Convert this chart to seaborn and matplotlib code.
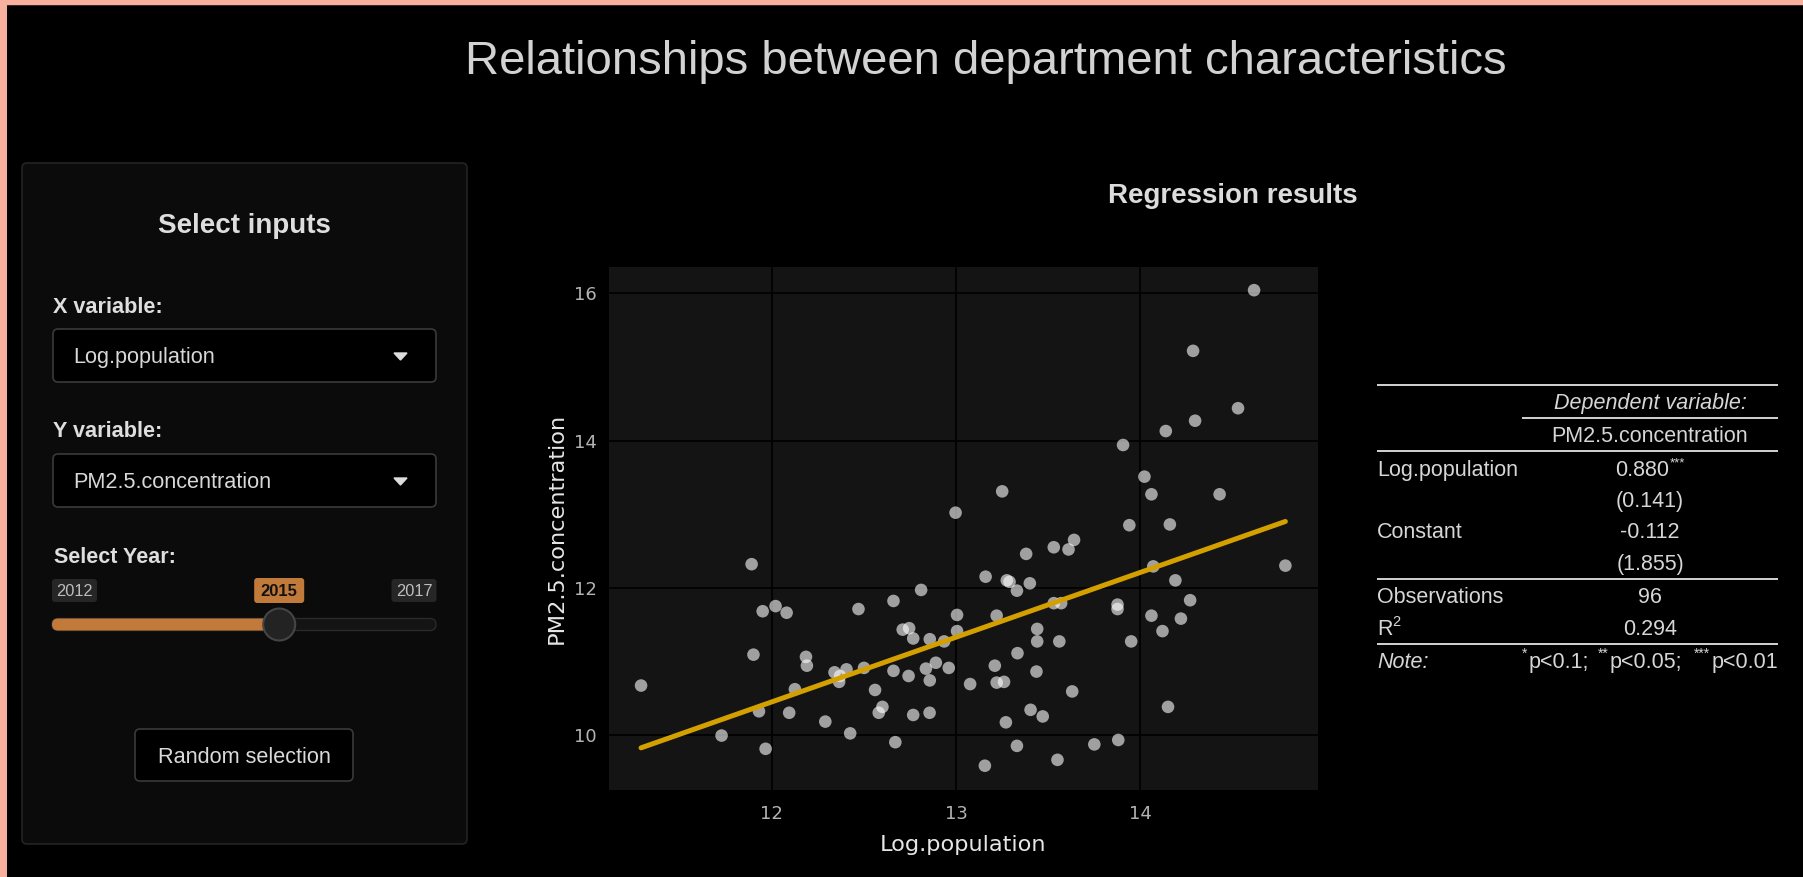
import numpy as np
import pandas as pd
import matplotlib
matplotlib.use("Agg")
import matplotlib.pyplot as plt
from matplotlib.patches import Rectangle, FancyBboxPatch, Circle, Polygon
import seaborn as sns

# ---- data -----------------------------------------------------------------
log_population = [
    11.29, 11.727, 11.89, 11.90, 11.93, 11.95, 11.966, 12.02, 12.08, 12.094,
    12.125, 12.185, 12.19, 12.29, 12.34, 12.365, 12.405, 12.425, 12.47, 12.50,
    12.56, 12.58, 12.60, 12.66, 12.66, 12.67, 12.71, 12.745, 12.742, 12.767,
    12.767, 12.81, 12.836, 12.856, 12.857, 12.857, 12.89, 12.935, 12.96, 12.997,
    13.005, 13.005, 13.076, 13.156, 13.16, 13.21, 13.22, 13.22, 13.26, 13.25,
    13.27, 13.275, 13.29, 13.33, 13.333, 13.33, 13.38, 13.40, 13.404, 13.436,
    13.44, 13.44, 13.47, 13.53, 13.53, 13.57, 13.55, 13.56, 13.61, 13.63,
    13.64, 13.75, 13.876, 13.876, 13.88, 13.906, 13.94, 13.95, 14.022, 14.06,
    14.06, 14.07, 14.12, 14.138, 14.15, 14.16, 14.19, 14.22, 14.27, 14.286,
    14.297, 14.43, 14.53, 14.617, 14.787, 12.37,
]
pm25 = [
    10.67, 9.99, 12.32, 11.09, 10.32, 11.68, 9.81, 11.75, 11.66, 10.30,
    10.62, 11.06, 10.94, 10.18, 10.85, 10.72, 10.89, 10.02, 11.71, 10.91,
    10.61, 10.30, 10.38, 10.87, 11.82, 9.90, 11.43, 11.45, 10.80, 10.27,
    11.31, 11.97, 10.90, 10.30, 10.74, 11.30, 10.98, 11.27, 10.91, 13.02,
    11.63, 11.41, 10.69, 9.58, 12.15, 10.94, 11.62, 10.71, 10.72, 13.31,
    10.17, 12.10, 12.08, 11.96, 11.11, 9.85, 12.46, 12.06, 10.34, 10.86,
    11.44, 11.27, 10.25, 12.55, 11.79, 11.79, 9.66, 11.27, 12.52, 10.59,
    12.65, 9.87, 11.77, 11.71, 9.93, 13.94, 12.85, 11.27, 13.51, 13.27,
    11.62, 12.29, 11.41, 14.13, 10.38, 12.86, 12.10, 11.58, 11.83, 15.22,
    14.27, 13.27, 14.44, 16.045, 12.30, 10.80,
]
x_name = "Log.population"
y_name = "PM2.5.concentration"
x_ticks = [12, 13, 14]
y_ticks = [10, 12, 14, 16]
year_range = [2012, 2017]
selected_year = 2015
coef_slope = 0.880
coef_intercept = -0.112
se_slope = 0.141
se_intercept = 1.855
n_obs = 96
r_squared = 0.294

# ---- styling --------------------------------------------------------------
W, H = 1803, 877
sns.set_theme(style="dark")
plt.rcParams["font.family"] = ["Liberation Sans", "DejaVu Sans"]

TXT = "#d6d6d6"
SALMON = "#f7b09d"
ORANGE = "#c27a3a"
LINE_GOLD = "#d4a000"

fig = plt.figure(figsize=(W / 100, H / 100), dpi=100, facecolor="black")

# full-figure canvas in pixel units for the page furniture
ui = fig.add_axes([0, 0, 1, 1], zorder=0)
ui.set_xlim(0, W)
ui.set_ylim(H, 0)
ui.axis("off")

# page frame
ui.add_patch(Rectangle((0, 0), W, 5, color=SALMON, lw=0))
ui.add_patch(Rectangle((0, 5), W, 1.2, color="#3a2620", lw=0))
ui.add_patch(Rectangle((0, 0), 7, H, color=SALMON, lw=0))

ui.text(986, 74, "Relationships between department characteristics",
        fontsize=34, color="#d2d2d2", ha="center", va="baseline")


def rbox(x0, y0, x1, y1, fc, ec, r=4, lw=1.0, z=1):
    ui.add_patch(FancyBboxPatch((x0, y0), x1 - x0, y1 - y0,
                                boxstyle=f"round,pad=0,rounding_size={r}",
                                fc=fc, ec=ec, lw=lw, zorder=z))


# ---- input panel ----------------------------------------------------------
rbox(22, 163, 467, 844, "#0b0b0b", "#242424", r=5, lw=1.2)
ui.text(244, 233, "Select inputs", fontsize=20, weight="bold",
        color="#dedede", ha="center", va="baseline")

for lab, val, y_lab, y0 in [("X variable:", x_name, 313, 329),
                            ("Y variable:", y_name, 437, 454)]:
    ui.text(53, y_lab, lab, fontsize=15.6, weight="bold", color="#dedede",
            ha="left", va="baseline")
    rbox(53, y0, 436, y0 + 53, "#000000", "#3a3a3a", r=5, lw=1.2, z=2)
    ui.text(73, y0 + 34, val, fontsize=15.6, color="#d8d8d8",
            ha="left", va="baseline", zorder=3)
    ui.add_patch(Polygon([(394, y0 + 24), (407, y0 + 24), (400.5, y0 + 31)],
                         closed=True, color="#dddddd", zorder=3))

ui.text(54, 563, "Select Year:", fontsize=15.5, weight="bold",
        color="#dedede", ha="left", va="baseline")

# year slider
trk_x0, trk_x1, trk_y = 52, 436, 624.5
frac = (selected_year - year_range[0]) / (year_range[1] - year_range[0])
hx = trk_x0 + 16 + frac * (trk_x1 - trk_x0 - 32)
rbox(trk_x0, trk_y - 6, trk_x1, trk_y + 6, "#141414", "#2a2a2a", r=6, lw=1, z=2)
rbox(trk_x0, trk_y - 6, hx, trk_y + 6, ORANGE, ORANGE, r=6, lw=0, z=3)
ui.add_patch(Circle((hx, trk_y), 16, fc="#232323", ec="#454545", lw=1.5, zorder=4))

for yr, xc in [(year_range[0], 74.5), (year_range[1], 414)]:
    rbox(xc - 22.5, 579, xc + 22.5, 602, "#262626", "#262626", r=3, lw=0, z=2)
    ui.text(xc, 596, str(yr), fontsize=11.8, color="#bdbdbd",
            ha="center", va="baseline", zorder=3)
rbox(hx - 25, 578, hx + 25, 603, ORANGE, ORANGE, r=3, lw=0, z=2)
ui.text(hx, 596, str(selected_year), fontsize=12, weight="bold", color="#111111",
        ha="center", va="baseline", zorder=3)

# button
rbox(135, 729, 353, 781, "#000000", "#3a3a3a", r=5, lw=1.2, z=2)
ui.text(244, 763, "Random selection", fontsize=15.6, color="#dadada",
        ha="center", va="baseline", zorder=3)

# ---- regression scatter ---------------------------------------------------
ui.text(1233, 203, "Regression results", fontsize=20, weight="bold",
        color="#dcdcdc", ha="center", va="baseline")

ax = fig.add_axes([609 / W, 1 - 790 / H, (1318 - 609) / W, (790 - 267) / H], zorder=2)
ax.set_facecolor("#141414")
df = pd.DataFrame({x_name: log_population, y_name: pm25})
sns.scatterplot(data=df, x=x_name, y=y_name, ax=ax, color="white", alpha=0.6,
                s=82, edgecolor="none", zorder=3)
fit_x = np.array([df[x_name].min(), df[x_name].max()])
sns.lineplot(x=fit_x, y=coef_intercept + coef_slope * fit_x, ax=ax,
             color=LINE_GOLD, lw=3.6, zorder=4)

ax.set_xlim(11.116, 14.964)
ax.set_ylim(9.25, 16.36)
ax.set_xticks(x_ticks)
ax.set_yticks(y_ticks)
ax.set_axisbelow(True)
ax.grid(True, color="black", lw=1.2)
for sp in ax.spines.values():
    sp.set_visible(False)
ax.tick_params(axis="both", which="major", length=5, width=1, color="#9a9a9a",
               labelcolor="#b4b4b4", labelsize=13, direction="out")
ax.tick_params(axis="x", pad=6)
ax.tick_params(axis="y", pad=4)
for lbl in ax.get_xticklabels() + ax.get_yticklabels():
    lbl.set_family("DejaVu Sans")

ax.set_xlabel(x_name, fontsize=16.2, color="#e6e6e6", family="DejaVu Sans")
ax.set_ylabel(y_name, fontsize=16.2, color="#e6e6e6", family="DejaVu Sans")
ax.xaxis.set_label_coords(0.5, -(845 - 790) / 523)
ax.xaxis.label.set_va("center")
ax.yaxis.set_label_coords((557 - 609) / 709, 0.5)
ax.yaxis.label.set_va("center")

# ---- regression table -----------------------------------------------------
fig.canvas.draw()
renderer = fig.canvas.get_renderer()
T0, T1, TC = 1377, 1778, 1650
FS = 15.5


def chain(pieces, x, y, align="left"):
    objs, widths = [], []
    for p in pieces:
        if isinstance(p, (int, float)):
            objs.append(None)
            widths.append(p)
            continue
        s, size, dy, style = p
        t = ui.text(0, y + dy, s, fontsize=size, style=style, ha="left",
                    va="baseline", color=TXT)
        objs.append(t)
        widths.append(t.get_window_extent(renderer=renderer).width)
    total = sum(widths)
    start = {"left": x, "right": x - total, "center": x - total / 2}[align]
    for t, w in zip(objs, widths):
        if t is not None:
            t.set_x(start)
        start += w


def hline(y, x0=T0, x1=T1):
    ui.plot([x0, x1], [y, y], color="#e4e4e4", lw=1.3, solid_capstyle="butt")


hline(385)
ui.text(TC, 409, "Dependent variable:", fontsize=FS, style="italic", color=TXT,
        ha="center", va="baseline")
hline(418, 1522)
ui.text(TC, 442, y_name, fontsize=FS, color=TXT, ha="center", va="baseline")
hline(451)

ui.text(T0, 476, x_name, fontsize=FS, color=TXT, ha="left", va="baseline")
chain([(f"{coef_slope:.3f}", FS, 0, "normal"), 1, ("***", 9.5, -10, "normal")],
      TC, 476, "center")
ui.text(TC, 507, f"({se_slope:.3f})", fontsize=FS, color=TXT, ha="center", va="baseline")
ui.text(T0, 538, "Constant", fontsize=FS, color=TXT, ha="left", va="baseline")
ui.text(TC, 538, f"{coef_intercept:.3f}", fontsize=FS, color=TXT, ha="center", va="baseline")
ui.text(TC, 570, f"({se_intercept:.3f})", fontsize=FS, color=TXT, ha="center", va="baseline")
hline(579)

ui.text(T0, 603, "Observations", fontsize=FS, color=TXT, ha="left", va="baseline")
ui.text(TC, 603, f"{n_obs}", fontsize=FS, color=TXT, ha="center", va="baseline")
chain([("R", FS, 0, "normal"), ("2", 10.5, -9, "normal")], T0, 635, "left")
ui.text(TC, 635, f"{r_squared:.3f}", fontsize=FS, color=TXT, ha="center", va="baseline")
hline(644)

ui.text(T0, 668, "Note:", fontsize=FS, style="italic", color=TXT, ha="left", va="baseline")
chain([("*", 10, -10, "normal"), 1, ("p<0.1;", FS, 0, "normal"), 9,
       ("**", 10, -10, "normal"), 1, ("p<0.05;", FS, 0, "normal"), 12,
       ("***", 10, -10, "normal"), 1, ("p<0.01", FS, 0, "normal")],
      T1, 668, "right")

fig.savefig("out.png", dpi=100, facecolor="black")
